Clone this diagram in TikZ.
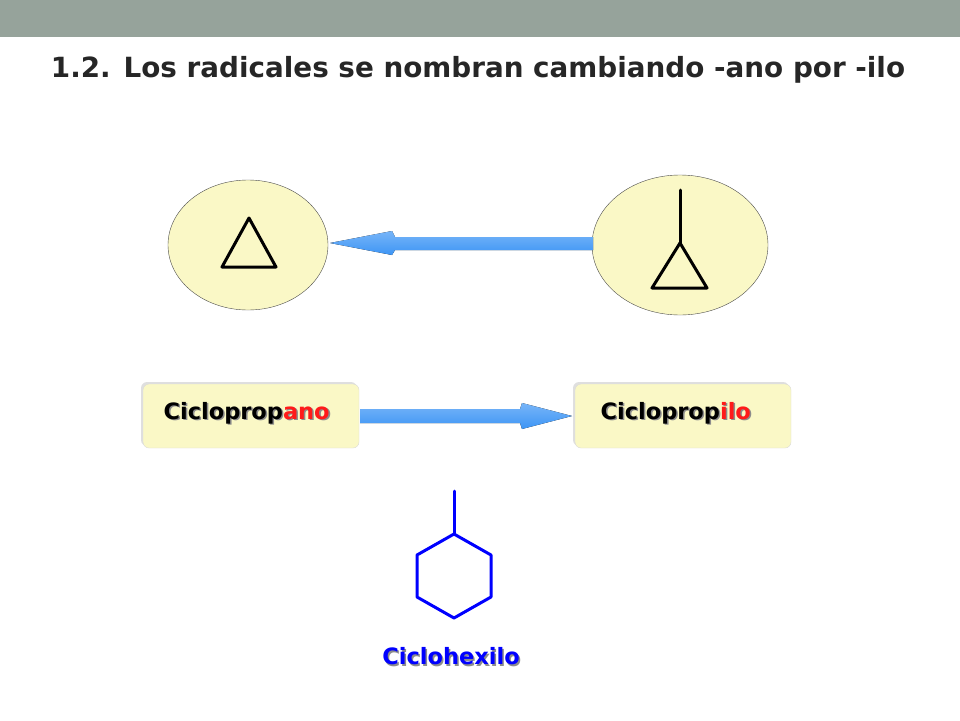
\documentclass[tikz,border=0pt]{standalone}
\usepackage{fontspec}
\setmainfont{DejaVu Sans}
\usetikzlibrary{arrows.meta,shadows,shapes.geometric}
\definecolor{barGray}{HTML}{96A39B}
\definecolor{paleYellow}{HTML}{FAF8C6}
\definecolor{arrowBlue}{HTML}{3D95F5}
\definecolor{nameRed}{HTML}{FF1A1A}
\tikzset{
  bubble/.style={ellipse,draw=black!70,fill=paleYellow,thin},
  namebox/.style={rounded corners=6pt,fill=paleYellow,draw=black!15,
    minimum width=216pt,minimum height=64pt,
    drop shadow={shadow xshift=-2pt,shadow yshift=2pt,opacity=.25}},
  bigarrow/.style={draw=none,top color=arrowBlue!70,bottom color=arrowBlue,middle color=arrowBlue!85},
  mol/.style={line width=3pt,line join=round,line cap=round},
  shadowtext/.style={font=\bfseries\fontsize{22.5}{26}\selectfont}
}
\newcommand{\shadowed}[1]{\rlap{\textcolor{black!45}{\raisebox{-1.5pt}{\hspace{1.5pt}#1}}}}
\begin{document}
\begin{tikzpicture}[x=1pt,y=-1pt]
\useasboundingbox (0,0) rectangle (960,720);
\fill[barGray] (0,0) rectangle (960,37);
\node[font=\bfseries\fontsize{27.8}{32}\selectfont,text=black!85] (title) at (478,70)
  {1.2. Los radicales se nombran cambiando -ano por -ilo};
% ellipses
\node[bubble,minimum width=160pt,minimum height=130pt] (ring) at (248,245) {};
\node[bubble,minimum width=176pt,minimum height=140pt] (ringR) at (680,245) {};
\fill[bigarrow] (593,237) -- (395,237) -- (392,231) -- (330,243) -- (392,255) -- (395,250) -- (593,250) -- cycle;
\draw[mol] (222,267) -- (276,267) -- (249,218) -- cycle;
\draw[mol] (680,190) -- (680,243);
\draw[mol] (680,243) -- (652,288) -- (707,288) -- cycle;
% names
\node[namebox] (ano) at (251,416) {};
\node[namebox] (ilo) at (683,416) {};
\fill[bigarrow] (360,409) -- (520,409) -- (522,403) -- (572,416) -- (522,429) -- (520,423) -- (360,423) -- cycle;
\node[shadowtext,anchor=west] (anoT) at (160,414)
  {\shadowed{Ciclopropano}Ciclo\-prop\textcolor{nameRed}{ano}};
\node[shadowtext,anchor=west] (iloT) at (597,414)
  {\shadowed{Ciclopropilo}Ciclo\-prop\textcolor{nameRed}{ilo}};
% hexagon
\draw[mol,blue] (454,534) -- (491,555) -- (491,597) -- (454,618) -- (417,597) -- (417,555) -- cycle;
\draw[mol,blue] (454,534) -- (454,491);
\node[shadowtext] (hex) at (451,657)
  {\shadowed{Ciclohexilo}\textcolor{blue}{Ciclohexilo}};
\end{tikzpicture}
\end{document}
